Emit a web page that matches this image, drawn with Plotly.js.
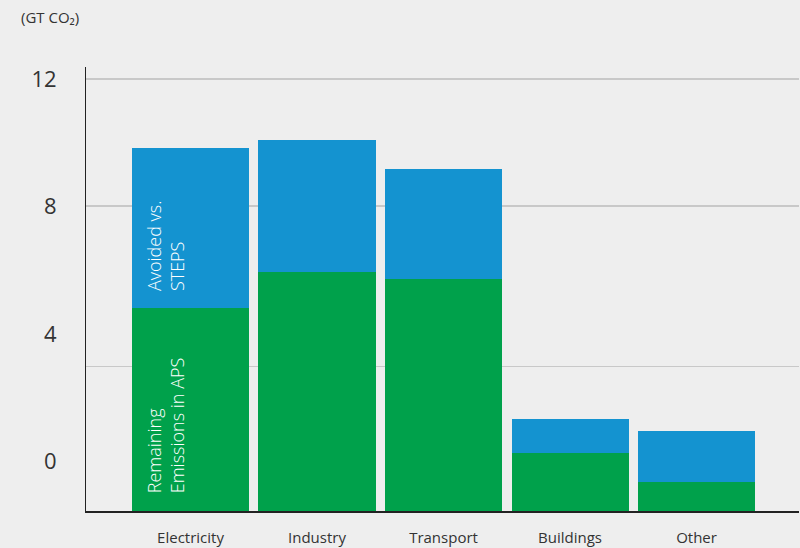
<!DOCTYPE html>
<html>
<head>
<meta charset="utf-8">
<script src="https://cdn.plot.ly/plotly-3.0.1.min.js"></script>
<style>html,body{margin:0;padding:0;background:#eeeeee;}#chart{width:800px;height:548px;}</style>
</head>
<body>
<div id="chart"></div>
<script>
// Data (GT CO2)
const categories = ["Electricity", "Industry", "Transport", "Buildings", "Other"];
const remainingAPS = [5.64, 6.64, 6.44, 1.62, 0.80];
const avoidedSTEPS = [4.44, 3.67, 3.06, 0.94, 1.42];
const seriesNames = ["Remaining Emissions in APS", "Avoided vs. STEPS"];
// Tick labels as they appear in the reference
const tickLabelText = ["0", "4", "8", "12"];
const tickLabelVals = [1.37, 4.9, 8.47, 12];
const gridVals = [4.01, 8.47, 12];

const green = "#00a14b", blue = "#1493d0";
const fontFam = "Open Sans, Noto Sans, sans-serif";

const traces = [
  {type: "bar", x: categories, y: remainingAPS, name: seriesNames[0],
   marker: {color: green}, hoverinfo: "y"},
  {type: "bar", x: categories, y: avoidedSTEPS, name: seriesNames[1],
   marker: {color: blue}, hoverinfo: "y"},
  // invisible trace to activate the label axis
  {type: "scatter", x: [categories[0]], y: [0], yaxis: "y2", mode: "markers",
   marker: {opacity: 0}, hoverinfo: "skip", showlegend: false}
];

const yRange = [0, 12.333];
const layout = {
  width: 800, height: 548,
  paper_bgcolor: "#eeeeee", plot_bgcolor: "#eeeeee",
  margin: {l: 86, r: 1, t: 67, b: 37},
  barmode: "stack", bargap: 0.075, showlegend: false,
  font: {family: fontFam, color: "#333333"},
  xaxis: {
    type: "category", range: [-0.826, 4.81], fixedrange: true,
    showline: true, linecolor: "#222222", linewidth: 1.5,
    ticks: "outside", ticklen: 12, tickcolor: "rgba(0,0,0,0)",
    tickfont: {size: 15, color: "#333333", family: fontFam, weight: 400},
    showgrid: false, zeroline: false
  },
  yaxis: {
    range: yRange, fixedrange: true,
    tickvals: gridVals, showticklabels: false, ticks: "",
    showgrid: true, gridcolor: "#c8c8c8", gridwidth: 1.6,
    showline: true, linecolor: "#222222", linewidth: 1.5, zeroline: false
  },
  yaxis2: {
    overlaying: "y", side: "left", range: yRange, fixedrange: true,
    tickvals: tickLabelVals, ticktext: tickLabelText,
    showgrid: false, zeroline: false, showline: false,
    ticks: "outside", ticklen: 24, tickcolor: "rgba(0,0,0,0)",
    tickfont: {size: 22, color: "#333333", family: fontFam, weight: 400}
  },
  annotations: [
    {xref: "paper", yref: "paper", x: -0.094, y: 1.113, xanchor: "left", yanchor: "middle",
     text: "(GT CO₂)", showarrow: false,
     font: {size: 15, color: "#333333", family: fontFam, weight: 400}},
    {x: categories[0], xshift: -25, y: remainingAPS[0] + avoidedSTEPS[0] * 0.39,
     text: "Avoided vs.<br>STEPS", textangle: -90, align: "left", showarrow: false,
     xanchor: "center", yanchor: "middle",
     font: {size: 18, color: "#ffffff", family: fontFam, weight: 300}},
    {x: categories[0], xshift: -25, y: remainingAPS[0] * 0.42,
     text: "Remaining<br>Emissions in APS", textangle: -90, align: "left", showarrow: false,
     xanchor: "center", yanchor: "middle",
     font: {size: 18, color: "#ffffff", family: fontFam, weight: 300}}
  ]
};

Plotly.newPlot("chart", traces, layout, {displayModeBar: false, staticPlot: true});
</script>
</body>
</html>
